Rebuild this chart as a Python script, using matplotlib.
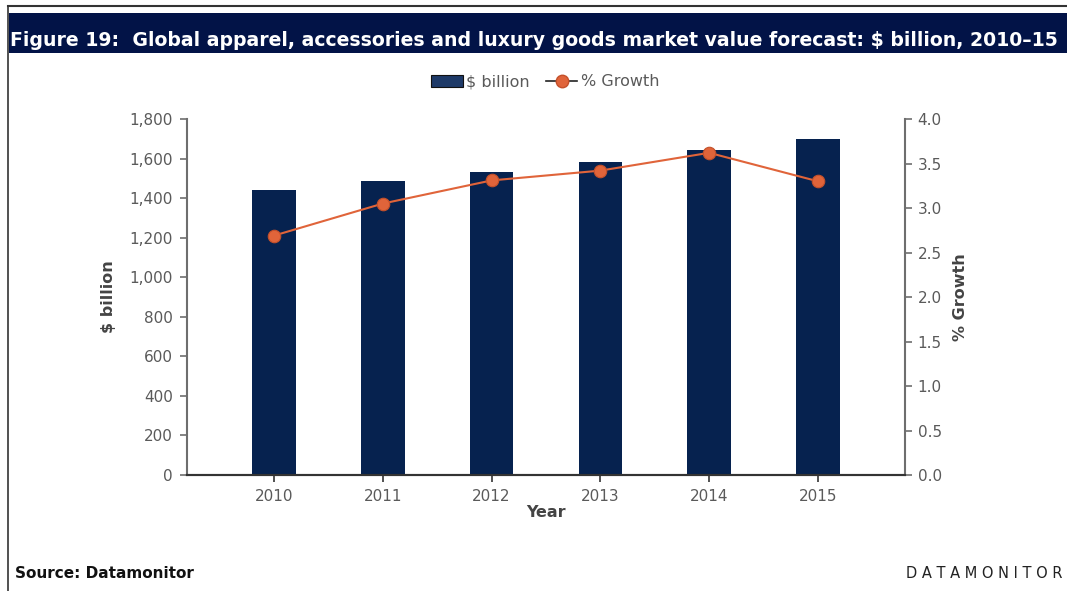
import numpy as np
import matplotlib
matplotlib.use('Agg')
import matplotlib.pyplot as plt
from matplotlib.lines import Line2D
from matplotlib.patches import Patch, Rectangle
from matplotlib.ticker import FuncFormatter, MultipleLocator

plt.rcParams['font.family'] = ['DejaVu Sans']

# market value forecast, 2010-15
years = ['2010', '2011', '2012', '2013', '2014', '2015']
value_bn = [1441, 1485, 1534, 1584, 1643, 1697]
growth_pct = [2.69, 3.05, 3.31, 3.42, 3.62, 3.30]

navy = '#06224f'
orange = '#e0643a'
grey_txt = '#5a5a5a'
grey_axis = '#6e6e6e'

fig = plt.figure(figsize=(10.67, 5.91), dpi=100)

# frame lines and title band
fig.add_artist(Line2D([8/1067, 1.0], [1 - 6/591, 1 - 6/591], color='#333333', lw=1.5))
fig.add_artist(Line2D([8/1067, 8/1067], [0.0, 1 - 6/591], color='#333333', lw=1.2))
fig.add_artist(Rectangle((9/1067, 1 - 53/591), 1.0, 40/591, transform=fig.transFigure,
                         facecolor='#021347', edgecolor='none'))
fig.text(10/1067, 1 - 41/591,
         'Figure 19:  Global apparel, accessories and luxury goods market value forecast: $ billion, 2010\u201315',
         color='white', fontsize=13.55, fontweight='bold', va='center', ha='left')

ax = fig.add_axes([187/1067, 1 - 475/591, 718/1067, 356/591])
x = np.arange(len(years))
ax.bar(x, value_bn, width=0.40, color=navy, zorder=2)
ax.set_xlim(-0.8, 5.8)
ax.set_ylim(0, 1800)
ax.yaxis.set_major_locator(MultipleLocator(200))
ax.yaxis.set_major_formatter(FuncFormatter(lambda v, p: f'{int(v):,}'))
ax.set_xticks(x)
ax.set_xticklabels(years)

ax2 = ax.twinx()
ax2.plot(x, growth_pct, color=orange, lw=1.5, marker='o', markersize=9,
         markerfacecolor=orange, markeredgecolor='#c4502a', markeredgewidth=0.8, zorder=3)
ax2.set_ylim(0, 4.0)
ax2.yaxis.set_major_locator(MultipleLocator(0.5))
ax2.yaxis.set_major_formatter(FuncFormatter(lambda v, p: f'{v:.1f}'))

for a in (ax, ax2):
    a.spines['top'].set_visible(False)
    a.spines['left'].set_color(grey_axis)
    a.spines['right'].set_color(grey_axis)
    a.spines['bottom'].set_color('#333333')
    a.spines['left'].set_linewidth(1.5)
    a.spines['right'].set_linewidth(1.5)
    a.spines['bottom'].set_linewidth(1.5)
    a.tick_params(axis='y', colors=grey_axis, labelcolor=grey_txt, labelsize=11, length=5, width=1.2)
ax2.spines['left'].set_visible(False)
ax.spines['right'].set_visible(False)
ax.tick_params(axis='x', colors='#333333', labelcolor=grey_txt, labelsize=11, length=5, width=1.2, pad=5)
ax.tick_params(axis='y', pad=5)
ax2.tick_params(axis='y', pad=4)

ax.set_xlabel('Year', fontsize=11.5, fontweight='bold', color='#444444', labelpad=1)
ax.set_ylabel('$ billion', fontsize=11.5, fontweight='bold', color='#444444', labelpad=10)
ax2.set_ylabel('% Growth', fontsize=11.5, fontweight='bold', color='#444444', labelpad=8)

handles = [Patch(facecolor='#1e3a68', edgecolor='#111111', lw=0.8),
           Line2D([], [], color='#222222', lw=1.2, marker='o', markersize=9,
                  markerfacecolor=orange, markeredgecolor='#c4502a')]
fig.legend(handles, ['$ billion', '% Growth'], loc='center', bbox_to_anchor=(545/1067, 1 - 82/591),
           ncol=2, frameon=False, fontsize=11.5, labelcolor=grey_txt, handlelength=2.0,
           handletextpad=0.2, columnspacing=1.0)

fig.text(15/1067, 1 - 574/591, 'Source: Datamonitor', fontsize=11, fontweight='bold',
         color='#111111', va='center', ha='left')
fig.text(1062/1067, 1 - 574/591, 'D A T A M O N I T O R', fontsize=10.5,
         color='#222222', va='center', ha='right')

fig.savefig('out.png', dpi=100)
